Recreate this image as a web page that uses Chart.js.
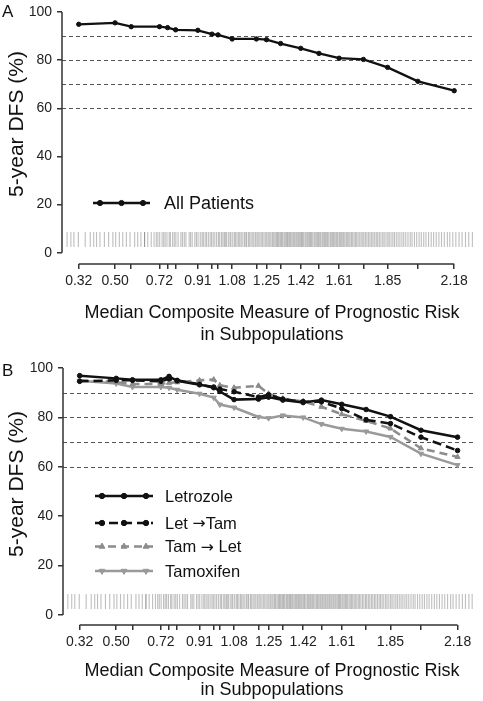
<!DOCTYPE html>
<html lang="en">
<head>
<meta charset="UTF-8">
<title>5-year DFS by prognostic risk</title>
<script src="https://cdn.jsdelivr.net/npm/chart.js"></script>
<style>
  body { margin: 0; background: #fff; }
  .panel { position: absolute; left: 0; width: 483px; }
  #panelA { top: 0; height: 350px; }
  #panelB { top: 350px; height: 351px; }
</style>
</head>
<body>
<div class="panel" id="panelA"><canvas id="chartA" width="483" height="350"></canvas></div>
<div class="panel" id="panelB"><canvas id="chartB" width="483" height="351"></canvas></div>
<script>
// median composite risk of each subpopulation (x positions of points / ticks)
const riskTicks = [0.32, 0.50, 0.58, 0.72, 0.76, 0.80, 0.91, 0.98, 1.01, 1.08, 1.20, 1.25, 1.32, 1.42, 1.51, 1.61, 1.73, 1.85, 2.00, 2.18];
const riskLabels = [0.32, 0.50, 0.72, 0.91, 1.08, 1.25, 1.42, 1.61, 1.85, 2.18];
const yTicks = [0, 20, 40, 60, 80, 100];
const refLines = [60, 70, 80, 90];

// 5-year DFS (%)
const allPatients = [94.9, 95.5, 93.9, 93.9, 93.5, 92.6, 92.4, 90.8, 90.5, 88.8, 88.8, 88.5, 86.9, 84.9, 82.8, 80.8, 80.3, 77.0, 71.2, 67.3];
const letrozole   = [96.9, 95.8, 95.2, 95.2, 96.6, 94.8, 93.2, 92.3, 90.5, 87.2, 87.4, 88.2, 87.0, 86.0, 87.0, 85.3, 83.2, 80.3, 74.8, 72.0];
const letTam      = [94.6, 95.0, 95.0, 94.6, 95.6, 95.0, 93.4, 92.0, 91.5, 90.4, 88.2, 89.2, 87.4, 86.4, 86.3, 83.6, 79.0, 77.5, 72.0, 66.6];
const tamLet      = [95.0, 94.3, 93.5, 93.5, 94.0, 94.2, 95.0, 95.3, 93.0, 92.0, 92.8, 89.6, 87.6, 86.5, 84.3, 81.3, 78.6, 75.5, 67.5, 64.0];
const tamoxifen   = [94.8, 93.7, 92.3, 92.3, 92.0, 91.2, 89.6, 88.0, 85.2, 84.0, 80.2, 79.7, 80.8, 80.0, 77.3, 75.4, 74.3, 72.1, 65.3, 60.7];

// individual patient risk values (rug)
const rugRisk = [
  0.262, 0.281, 0.296, 0.318, 0.352, 0.377, 0.394, 0.408, 0.425, 0.447, 0.468, 0.489, 0.503, 0.521, 0.538, 0.556, 0.574,
  0.597, 0.612, 0.628, 0.646, 0.646, 0.662, 0.679, 0.693,
  0.704, 0.712, 0.721, 0.733, 0.741, 0.748, 0.757, 0.768, 0.774, 0.785, 0.793, 0.801, 0.812, 0.826, 0.834, 0.843, 0.851,
  0.867, 0.874, 0.882, 0.895, 0.903, 0.911, 0.922, 0.931, 0.937, 0.946, 0.953, 0.962, 0.971, 0.978, 0.986, 0.994,
  1.003, 1.012, 1.018, 1.027, 1.034, 1.041, 1.046, 1.052, 1.061, 1.069, 1.074, 1.083, 1.091, 1.097, 1.104, 1.112, 1.118,
  1.125, 1.133, 1.141, 1.148, 1.152, 1.161, 1.167, 1.174, 1.182, 1.188, 1.196, 1.203, 1.209, 1.217, 1.224, 1.231, 1.238,
  1.246, 1.252, 1.259, 1.266, 1.272, 1.279, 1.284, 1.291, 1.297,
  1.302, 1.306, 1.311, 1.317, 1.322, 1.326, 1.331, 1.338, 1.343, 1.349, 1.354, 1.358, 1.364, 1.369, 1.375, 1.381, 1.386,
  1.391, 1.397, 1.402, 1.408, 1.413, 1.419, 1.424, 1.428, 1.434, 1.441, 1.446, 1.452, 1.457, 1.463, 1.468, 1.473, 1.479,
  1.486, 1.491, 1.497, 1.503, 1.508, 1.514, 1.519, 1.526, 1.531, 1.537, 1.542, 1.548, 1.553, 1.559, 1.566, 1.571, 1.577,
  1.582, 1.588, 1.594, 1.599, 1.604, 1.611, 1.616, 1.622, 1.628, 1.633, 1.639, 1.646, 1.652, 1.658, 1.664, 1.671, 1.677,
  1.684, 1.691, 1.697,
  1.704, 1.712, 1.719, 1.727, 1.733, 1.741, 1.748, 1.756, 1.763, 1.771, 1.778, 1.786, 1.794, 1.801, 1.809, 1.817, 1.826,
  1.833, 1.842, 1.851, 1.858, 1.867, 1.876, 1.884, 1.893, 1.902, 1.911, 1.921, 1.930, 1.940, 1.951, 1.962, 1.971, 1.983,
  1.994, 2.006, 2.017, 2.029, 2.040, 2.053, 2.066, 2.078, 2.091, 2.104, 2.117, 2.131, 2.146, 2.158, 2.173, 2.188, 2.204,
  2.219, 2.236, 2.252, 2.270
];

const FONT = "'Liberation Sans', Arial, Helvetica, sans-serif";
const ARROW_FONT = "'DejaVu Sans', sans-serif";
const AXIS = '#333';

// legend text; the arrow gets a font where it is drawn full size
function drawLabel(ctx, text, x, y, size) {
  const parts = text.split('\u2192');
  let cx = x;
  parts.forEach((part, i) => {
    if (i > 0) {
      ctx.font = (size * 0.95) + 'px ' + ARROW_FONT;
      ctx.fillText('\u2192', cx, y);
      cx += ctx.measureText('\u2192').width;
    }
    ctx.font = size + 'px ' + FONT;
    ctx.fillText(part, cx, y);
    cx += ctx.measureText(part).width;
  });
}

// draws reference lines, axis lines, titles and the hand-made legend
const panelDecor = {
  id: 'panelDecor',
  beforeDatasetsDraw(chart, args, o) {
    const { ctx, chartArea: a, scales: { y } } = chart;
    ctx.save();
    ctx.strokeStyle = '#555';
    ctx.lineWidth = 1;
    ctx.setLineDash([4, 3]);
    refLines.forEach(v => {
      const py = Math.round(y.getPixelForValue(v)) + 0.5;
      ctx.beginPath(); ctx.moveTo(a.left, py); ctx.lineTo(a.right, py); ctx.stroke();
    });
    ctx.restore();
  },
  afterDraw(chart, args, o) {
    const { ctx, chartArea: a, scales: { x, y } } = chart;
    ctx.save();
    // axes
    ctx.strokeStyle = AXIS;
    ctx.lineWidth = 1.5;
    ctx.beginPath();
    ctx.moveTo(a.left, y.getPixelForValue(0)); ctx.lineTo(a.left, y.getPixelForValue(100));
    ctx.moveTo(x.getPixelForValue(riskTicks[0]), a.bottom);
    ctx.lineTo(x.getPixelForValue(riskTicks[riskTicks.length - 1]), a.bottom);
    ctx.stroke();

    ctx.fillStyle = '#111';
    // panel letter
    ctx.font = '17px ' + FONT;
    ctx.textAlign = 'left';
    ctx.textBaseline = 'alphabetic';
    ctx.fillText(o.letter, 2, o.letterY);

    // x title
    ctx.font = '18px ' + FONT;
    ctx.textAlign = 'center';
    ctx.fillText('Median Composite Measure of Prognostic Risk', 272, o.xTitleY[0]);
    ctx.fillText('in Subpopulations', 272, o.xTitleY[1]);

    // y title
    ctx.save();
    ctx.translate(17, o.yTitleY);
    ctx.rotate(-Math.PI / 2);
    ctx.font = '21px ' + FONT;
    ctx.textBaseline = 'middle';
    ctx.fillText('5-year DFS (%)', 0, 0);
    ctx.restore();

    // legend
    const lg = o.legend;
    lg.rows.forEach((row, i) => {
      const ds = chart.data.datasets[i];
      ctx.save();
      ctx.strokeStyle = ds.borderColor;
      ctx.lineWidth = ds.borderWidth;
      ctx.setLineDash(ds.borderDash || []);
      ctx.beginPath(); ctx.moveTo(lg.x1, row); ctx.lineTo(lg.x2, row); ctx.stroke();
      ctx.setLineDash([]);
      ctx.fillStyle = ds.borderColor;
      ctx.lineWidth = 1;
      [lg.x1 + 7, (lg.x1 + lg.x2) / 2, lg.x2 - 7].forEach(px => {
        Chart.helpers.drawPoint(ctx, { pointStyle: ds.pointStyle, rotation: ds.rotation || 0,
          radius: ds.pointRadius + 0.4, borderWidth: 1 }, px, row);
      });
      ctx.restore();
      ctx.textAlign = 'left';
      ctx.textBaseline = 'middle';
      ctx.fillStyle = '#111';
      drawLabel(ctx, ds.label, lg.textX, row + 1, lg.size);
    });
    ctx.restore();
  }
};

function makePanel(id, p) {
  const datasets = p.series.map(s => ({
    type: 'line',
    label: s.label,
    data: riskTicks.map((v, i) => ({ x: v, y: s.values[i] })),
    borderColor: s.color,
    backgroundColor: s.color,
    pointBackgroundColor: s.color,
    pointBorderColor: s.color,
    borderWidth: s.width,
    borderDash: s.dash || [],
    pointStyle: s.marker,
    rotation: s.rot || 0,
    pointRadius: s.r,
    pointBorderWidth: 1,
    tension: 0
  }));
  datasets.push({
    type: 'scatter',
    label: 'patients',
    data: rugRisk.map(v => ({ x: v, y: 5.5 })),
    pointStyle: 'line',
    rotation: 90,
    pointRadius: 7.5,
    borderColor: 'rgba(100,100,100,0.42)',
    pointBorderWidth: 1.1
  });

  return new Chart(document.getElementById(id), {
    data: { datasets },
    plugins: [panelDecor],
    options: {
      responsive: false,
      animation: false,
      events: [],
      layout: { padding: { top: p.top, left: 0, right: 0, bottom: 0 } },
      plugins: {
        legend: { display: false },
        tooltip: { enabled: false },
        panelDecor: p.decor
      },
      scales: {
        x: {
          type: 'linear',
          min: p.xMin,
          max: p.xMax,
          afterBuildTicks: s => { s.ticks = riskTicks.map(v => ({ value: v })); },
          afterFit: s => { s.height = p.xHeight; },
          border: { display: false },
          grid: { drawOnChartArea: false, drawTicks: true, tickLength: 5, color: AXIS, lineWidth: 1.5 },
          ticks: {
            autoSkip: false, maxRotation: 0, minRotation: 0, padding: 5, color: '#222',
            font: { family: FONT, size: 14, lineHeight: 1 },
            callback: v => riskLabels.includes(v) ? v.toFixed(2) : ''
          }
        },
        y: {
          min: p.yMin,
          max: 100,
          afterBuildTicks: s => { s.ticks = yTicks.map(v => ({ value: v })); },
          afterFit: s => { s.width = p.yWidth; },
          border: { display: false },
          grid: { drawOnChartArea: false, drawTicks: true, tickLength: 5, color: AXIS, lineWidth: 1.5 },
          ticks: { padding: 5, color: '#222', font: { family: FONT, size: 14, lineHeight: 1 } }
        }
      }
    }
  });
}

makePanel('chartA', {
  top: 7, yMin: -4.68, yWidth: 62, xMin: 0.237, xMax: 2.28, xHeight: 86,
  series: [
    { label: 'All Patients', values: allPatients, color: '#111', width: 2.3, marker: 'circle', r: 2.2 }
  ],
  decor: {
    letter: 'A', letterY: 17, yTitleY: 124, xTitleY: [318, 339.5],
    legend: { x1: 93, x2: 150, textX: 164, size: 18, rows: [203] }
  }
});

makePanel('chartB', {
  top: 18, yMin: -4.04, yWidth: 63, xMin: 0.238, xMax: 2.263, xHeight: 76,
  series: [
    { label: 'Letrozole', values: letrozole, color: '#111', width: 2.5, marker: 'circle', r: 2.3 },
    { label: 'Let \u2192Tam', values: letTam, color: '#111', width: 2.5, dash: [9, 5], marker: 'circle', r: 2.3 },
    { label: 'Tam \u2192 Let', values: tamLet, color: '#8c8c8c', width: 2.5, dash: [8, 5], marker: 'triangle', r: 3 },
    { label: 'Tamoxifen', values: tamoxifen, color: '#9a9a9a', width: 2.5, marker: 'triangle', rot: 180, r: 3 }
  ],
  decor: {
    letter: 'B', letterY: 26, yTitleY: 134, xTitleY: [326, 345],
    legend: { x1: 95, x2: 153, textX: 165, size: 16.5, rows: [146, 173, 196.5, 221] }
  }
});
</script>
</body>
</html>
